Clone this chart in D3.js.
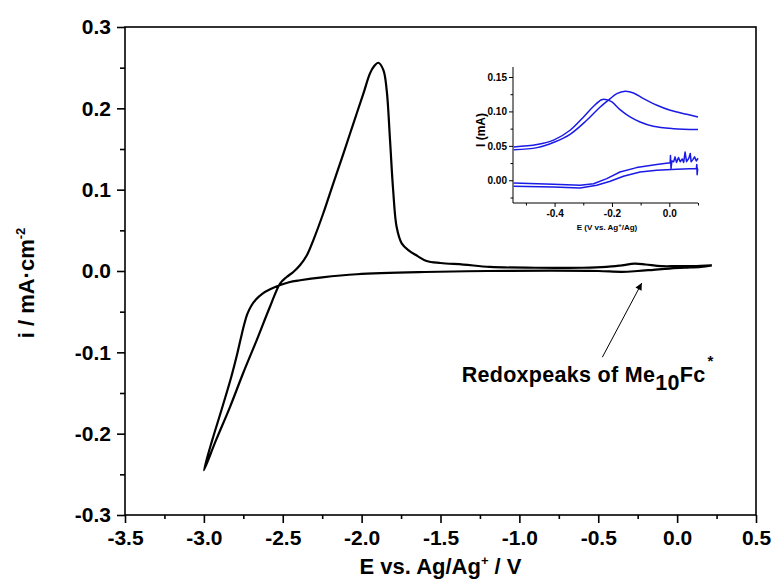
<!DOCTYPE html>
<html>
<head>
<meta charset="utf-8">
<script src="https://cdn.jsdelivr.net/npm/d3@7"></script>
<style>
  body { margin: 0; background: #fff; }
  svg { display: block; font-family: Arial, "Liberation Sans", sans-serif; font-weight: bold; }
  .axis path, .axis line { stroke: #000; stroke-width: 1.6px; }
  .axis text { fill: #000; }
</style>
</head>
<body>
<div id="chart"></div>
<script>
// main CV, cathodic sweep (0.22 V -> -3.0 V), [E, i]
const cathodicScan = [
  [0.22, 0.007], [0.15, 0.005], [0.05, 0.004], [-0.05, 0.003], [-0.15, 0.0015],
  [-0.25, 0.0], [-0.35, -0.001], [-0.5, 0.0], [-0.8, 0.0005], [-1.2, 0.0],
  [-1.6, -0.0012], [-2.03, -0.004], [-2.25, -0.0078], [-2.39, -0.0114], [-2.46, -0.0138],
  [-2.52, -0.0176], [-2.58, -0.0225], [-2.63, -0.028], [-2.67, -0.035], [-2.70, -0.043],
  [-2.725, -0.053], [-2.745, -0.066], [-2.765, -0.082], [-2.79, -0.103], [-2.826, -0.130],
  [-2.887, -0.170], [-2.947, -0.208], [-3.0, -0.245]
];
// anodic sweep back (-3.0 V -> 0.22 V)
const anodicScan = [
  [-3.0, -0.245], [-2.923, -0.208], [-2.834, -0.167], [-2.752, -0.126], [-2.665, -0.085],
  [-2.581, -0.044], [-2.517, -0.0155], [-2.475, -0.0074], [-2.433, -0.0012], [-2.391, 0.007],
  [-2.348, 0.019], [-2.306, 0.038], [-2.243, 0.071], [-2.18, 0.1075], [-2.116, 0.144],
  [-2.053, 0.181], [-1.989, 0.218], [-1.947, 0.243], [-1.92, 0.252], [-1.894, 0.256],
  [-1.862, 0.247], [-1.841, 0.222], [-1.82, 0.161], [-1.80, 0.099], [-1.778, 0.054],
  [-1.746, 0.034], [-1.70, 0.025], [-1.651, 0.019], [-1.588, 0.0123], [-1.50, 0.0098],
  [-1.355, 0.0079], [-1.186, 0.005], [-0.9, 0.004], [-0.6, 0.004], [-0.45, 0.005],
  [-0.35, 0.007], [-0.27, 0.009], [-0.2, 0.008], [-0.1, 0.006], [0.0, 0.006],
  [0.1, 0.006], [0.22, 0.007]
];

// inset: Me10Fc redox waves, [E, I]
const insetOx1 = [
  [-0.543, 0.0484], [-0.461, 0.0518], [-0.4, 0.059], [-0.346, 0.0726], [-0.299, 0.092],
  [-0.264, 0.1074], [-0.236, 0.117], [-0.218, 0.117], [-0.2, 0.1137], [-0.172, 0.1026],
  [-0.137, 0.092], [-0.102, 0.0847], [-0.056, 0.0784], [0.014, 0.075], [0.1, 0.0736]
];
const insetOx2 = [
  [-0.543, 0.0445], [-0.461, 0.0474], [-0.4, 0.0556], [-0.346, 0.0668], [-0.288, 0.0871],
  [-0.241, 0.1065], [-0.206, 0.1186], [-0.183, 0.1258], [-0.154, 0.1292], [-0.125, 0.1268],
  [-0.09, 0.1186], [-0.043, 0.1089], [0.003, 0.1016], [0.061, 0.0958], [0.1, 0.092]
];
const insetRed1 = [
  [-0.543, -0.0039], [-0.404, -0.0058], [-0.311, -0.0073], [-0.264, -0.005], [-0.218, 0.0024],
  [-0.172, 0.012], [-0.114, 0.0184], [-0.044, 0.0228], [0.003, 0.0256], [0.004, 0.036],
  [0.006, 0.017], [0.009, 0.028], [0.015, 0.027], [0.02, 0.034], [0.025, 0.026],
  [0.032, 0.033], [0.038, 0.027], [0.045, 0.031], [0.05, 0.026], [0.055, 0.041],
  [0.06, 0.027], [0.068, 0.032], [0.073, 0.039], [0.076, 0.027], [0.082, 0.03],
  [0.088, 0.034], [0.094, 0.028], [0.1, 0.032]
];
const insetRed2 = [
  [-0.543, -0.0087], [-0.404, -0.0097], [-0.311, -0.0111], [-0.253, -0.0073], [-0.206, -0.0015],
  [-0.16, 0.0058], [-0.102, 0.012], [-0.044, 0.0145], [0.026, 0.016], [0.094, 0.017],
  [0.096, 0.023], [0.097, 0.008], [0.099, 0.017], [0.1, 0.017]
];

const xTicks = [-3.5, -3.0, -2.5, -2.0, -1.5, -1.0, -0.5, 0.0, 0.5];
const yTicks = [-0.3, -0.2, -0.1, 0.0, 0.1, 0.2, 0.3];
const insetXTicks = [-0.4, -0.2, 0.0];
const insetYTicks = [0.0, 0.05, 0.1, 0.15];

const W = 774, H = 579;
const svg = d3.select("#chart").append("svg").attr("width", W).attr("height", H);

var x = d3.scaleLinear().domain([-3.5, 0.5]).range([125, 756]);
var y = d3.scaleLinear().domain([-0.3, 0.3]).range([515, 27]);

// frame
svg.append("rect")
  .attr("x", x(-3.5)).attr("y", y(0.3))
  .attr("width", x(0.5) - x(-3.5)).attr("height", y(-0.3) - y(0.3))
  .attr("fill", "none").attr("stroke", "#000").attr("stroke-width", 1.6);

// minor ticks
svg.append("g").attr("class", "axis").attr("transform", "translate(0," + y(-0.3) + ")")
  .call(d3.axisBottom(x).tickValues(d3.range(-3.25, 0.5, 0.5)).tickSize(4).tickFormat(""))
  .select(".domain").remove();
svg.append("g").attr("class", "axis").attr("transform", "translate(" + x(-3.5) + ",0)")
  .call(d3.axisLeft(y).tickValues(d3.range(-0.25, 0.3, 0.1)).tickSize(5).tickFormat(""))
  .select(".domain").remove();

// major axes
svg.append("g").attr("class", "axis").attr("transform", "translate(0," + y(-0.3) + ")")
  .call(d3.axisBottom(x).tickValues(xTicks).tickSize(8).tickPadding(7).tickFormat(d => d.toFixed(1)))
  .call(g => g.select(".domain").remove())
  .selectAll("text").attr("font-size", 21);
svg.append("g").attr("class", "axis").attr("transform", "translate(" + x(-3.5) + ",0)")
  .call(d3.axisLeft(y).tickValues(yTicks).tickSize(8).tickPadding(6).tickFormat(d => d.toFixed(1)))
  .call(g => g.select(".domain").remove())
  .selectAll("text").attr("font-size", 21);

// axis titles
const xl = svg.append("text").attr("x", (x(-3.5) + x(0.5)) / 2).attr("y", 574)
  .attr("text-anchor", "middle").attr("font-size", 22);
xl.append("tspan").text("E vs. Ag/Ag");
xl.append("tspan").attr("font-size", 13).attr("dy", -9).text("+");
xl.append("tspan").attr("dy", 9).text(" / V");

const yl = svg.append("text").attr("transform", "translate(34,283) rotate(-90)")
  .attr("text-anchor", "middle").attr("font-size", 22);
yl.append("tspan").text("i / mA\u00B7cm");
yl.append("tspan").attr("font-size", 13).attr("dy", -9).text("-2");

// CV curve
const line = d3.line().x(d => x(d[0])).y(d => y(d[1])).curve(d3.curveCatmullRom.alpha(0.5));
svg.append("path").datum(cathodicScan.concat(anodicScan.slice(1)))
  .attr("d", line).attr("fill", "none").attr("stroke", "#000").attr("stroke-width", 2.2)
  .attr("stroke-linejoin", "round");

// annotation
svg.append("defs").append("marker")
  .attr("id", "arr").attr("viewBox", "0 0 10 10").attr("refX", 10).attr("refY", 5)
  .attr("markerWidth", 10).attr("markerHeight", 7).attr("markerUnits", "userSpaceOnUse")
  .attr("orient", "auto")
  .append("path").attr("d", "M0,0L10,5L0,10z").attr("fill", "#000");
svg.append("line")
  .attr("x1", x(-0.474)).attr("y1", y(-0.106))
  .attr("x2", x(-0.224)).attr("y2", y(-0.0148))
  .attr("stroke", "#000").attr("stroke-width", 1).attr("marker-end", "url(#arr)");
const ann = svg.append("text").attr("x", x(-1.366)).attr("y", y(-0.1365))
  .attr("font-size", 21.5).attr("letter-spacing", 0.3);
ann.append("tspan").text("Redoxpeaks of Me");
ann.append("tspan").attr("dy", 8).text("10");
ann.append("tspan").attr("dy", -8).text("Fc");
ann.append("tspan").attr("dx", 2).attr("dy", -16).attr("font-size", 15).text("*");

// inset
var ix = d3.scaleLinear().domain([-0.545, 0.1]).range([513, 698]);
var iy = d3.scaleLinear().domain([-0.033, 0.1645]).range([203, 67]);
const inset = svg.append("g").attr("class", "inset");

inset.append("g").attr("class", "axis").attr("transform", "translate(0,203)")
  .call(d3.axisBottom(ix).tickValues([-0.5, -0.3, -0.1, 0.1]).tickSize(2.5).tickFormat(""))
  .select(".domain").remove();
inset.append("g").attr("class", "axis").attr("transform", "translate(513,0)")
  .call(d3.axisLeft(iy).tickValues([-0.025, 0.025, 0.075, 0.125]).tickSize(2.5).tickFormat(""))
  .select(".domain").remove();
inset.append("g").attr("class", "axis").attr("transform", "translate(0,203)")
  .call(d3.axisBottom(ix).tickValues(insetXTicks).tickSize(4).tickPadding(3).tickFormat(d => d.toFixed(1)))
  .call(g => g.select(".domain").attr("d", "M513,0H698"))
  .selectAll("text").attr("font-size", 10);
inset.append("g").attr("class", "axis").attr("transform", "translate(513,0)")
  .call(d3.axisLeft(iy).tickValues(insetYTicks).tickSize(4).tickPadding(2).tickFormat(d => d.toFixed(2)))
  .call(g => g.select(".domain").attr("d", "M0,67V203"))
  .selectAll("text").attr("font-size", 10);
inset.selectAll(".axis path, .axis line").style("stroke-width", "1px");

const ixl = inset.append("text").attr("x", 607).attr("y", 230)
  .attr("text-anchor", "middle").attr("font-size", 8);
ixl.append("tspan").text("E (V vs. Ag");
ixl.append("tspan").attr("font-size", 6).attr("dy", -3).text("+");
ixl.append("tspan").attr("dy", 3).text("/Ag)");
inset.append("text").attr("transform", "translate(485,130) rotate(-90)")
  .attr("text-anchor", "middle").attr("font-size", 12).text("I (mA)");

const ilineRaw = d3.line().x(d => ix(d[0])).y(d => iy(d[1]));
const ilineSmooth = d3.line().x(d => ix(d[0])).y(d => iy(d[1])).curve(d3.curveCatmullRom.alpha(0.5));
[insetOx1, insetOx2].forEach(s => {
  inset.append("path").datum(s).attr("d", ilineSmooth)
    .attr("fill", "none").attr("stroke", "#1a1ae6").attr("stroke-width", 1.5);
});
[insetRed1, insetRed2].forEach(s => {
  inset.append("path").datum(s).attr("d", ilineRaw)
    .attr("fill", "none").attr("stroke", "#1a1ae6").attr("stroke-width", 1.5)
    .attr("stroke-linejoin", "round");
});
</script>
</body>
</html>
